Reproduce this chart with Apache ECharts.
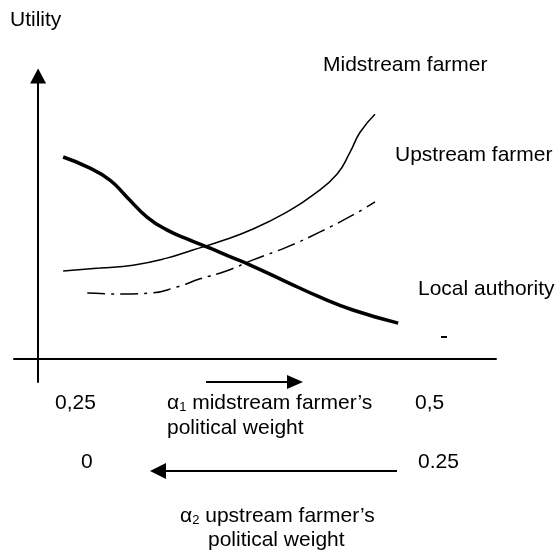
<!DOCTYPE html>
<html>
<head>
<meta charset="utf-8">
<script src="https://cdn.jsdelivr.net/npm/echarts@6/dist/echarts.min.js"></script>
<style>
  html, body { margin: 0; padding: 0; background: #fff; }
  #main { width: 558px; height: 553px; }
</style>
</head>
<body>
<div id="main"></div>
<script>
// schematic units: x = position along alpha1 axis, y = utility
var localAuthorityX = [5.2, 10.2, 14.9, 18.4, 22.6, 26.7, 31.5, 35.7, 39.8, 43.9, 51.6, 58.5, 65.3, 74.7];
var localAuthorityY = [69.2, 65.8, 61.3, 55.5, 48.6, 44.2, 40.7, 37.9, 35.0, 32.2, 26.3, 21.1, 16.7, 12.2];

var midstreamX = [5.2, 12.8, 19.7, 26.7, 32.1, 37.7, 44.6, 51.6, 57.0, 62.0, 64.7, 66.8, 69.9];
var midstreamY = [30.1, 31.1, 32.1, 34.5, 37.3, 40.2, 44.5, 50.3, 56.1, 63.3, 70.8, 77.7, 83.9];

var upstreamX = [10.2, 17.6, 23.2, 28.8, 33.6, 39.2, 44.6, 51.6, 58.5, 65.3, 69.9];
var upstreamY = [22.5, 22.2, 22.5, 24.6, 27.4, 30.2, 33.9, 38.3, 43.5, 49.3, 53.8];

var alpha1Ticks = ['0,25', '0,5'];
var alpha2Ticks = ['0', '0.25'];

function pairs(xs, ys) {
  return xs.map(function (x, i) { return [x, ys[i]]; });
}

var font = '"Liberation Sans", Arial, sans-serif';
var fs = 21;

function label(x, y, text) {
  return {
    type: 'text', left: x, top: y - 12,
    style: { text: text, font: fs + 'px ' + font, fill: '#000' }
  };
}

function richLabel(x, y, sub, rest) {
  return {
    type: 'text', left: x, top: y - 13,
    style: {
      text: '{a|α}{s|' + sub + '}{t|' + rest + '}',
      fill: '#000',
      rich: {
        a: { fontSize: fs, fontFamily: font, lineHeight: 25, verticalAlign: 'bottom' },
        s: { fontSize: 13, fontFamily: font, lineHeight: 25, verticalAlign: 'bottom' },
        t: { fontSize: fs, fontFamily: font, lineHeight: 25, verticalAlign: 'bottom' }
      }
    }
  };
}

var chart = echarts.init(document.getElementById('main'), null, { renderer: 'canvas' });

chart.setOption({
  backgroundColor: '#fff',
  animation: false,
  grid: { left: 14, right: 62, top: 76, bottom: 171, containLabel: false },
  xAxis: {
    type: 'value', min: -5, max: 95,
    axisLine: { onZero: true, lineStyle: { color: '#000', width: 2 } },
    axisTick: { show: false }, axisLabel: { show: false }, splitLine: { show: false }
  },
  yAxis: {
    type: 'value', min: -8, max: 97,
    axisLine: {
      onZero: true,
      symbol: ['none', 'triangle'], symbolSize: [16, 15],
      lineStyle: { color: '#000', width: 2 }
    },
    axisTick: { show: false }, axisLabel: { show: false }, splitLine: { show: false }
  },
  series: [
    {
      name: 'Local authority', type: 'line', smooth: 0.5, symbol: 'none',
      lineStyle: { color: '#000', width: 3.5 },
      data: pairs(localAuthorityX, localAuthorityY)
    },
    {
      name: 'Midstream farmer', type: 'line', smooth: 0.5, symbol: 'none',
      lineStyle: { color: '#000', width: 1.5 },
      data: pairs(midstreamX, midstreamY)
    },
    {
      name: 'Upstream farmer', type: 'line', smooth: 0.5, symbol: 'none',
      lineStyle: { color: '#000', width: 1.5, type: [18, 6, 3, 6] },
      data: pairs(upstreamX, upstreamY)
    }
  ],
  graphic: [
    label(10, 22, 'Utility'),
    label(323, 67, 'Midstream farmer'),
    label(395, 157, 'Upstream farmer'),
    label(418, 291, 'Local authority'),
    label(55, 405, alpha1Ticks[0]),
    richLabel(167, 406, '1', ' midstream farmer\u2019s'),
    label(167, 430, 'political weight'),
    label(415, 405, alpha1Ticks[1]),
    label(81, 464, alpha2Ticks[0]),
    label(418, 464, alpha2Ticks[1]),
    richLabel(180, 519, '2', ' upstream farmer\u2019s'),
    label(208, 542, 'political weight'),
    // direction arrows
    { type: 'line', shape: { x1: 206, y1: 382, x2: 289, y2: 382 }, style: { stroke: '#000', lineWidth: 2 } },
    { type: 'polygon', shape: { points: [[287, 375], [303, 382], [287, 389]] }, style: { fill: '#000' } },
    { type: 'line', shape: { x1: 397, y1: 471, x2: 164, y2: 471 }, style: { stroke: '#000', lineWidth: 2 } },
    { type: 'polygon', shape: { points: [[166, 463], [150, 471], [166, 479]] }, style: { fill: '#000' } },
    // small stray mark near the local authority label
    { type: 'line', shape: { x1: 441, y1: 337, x2: 447, y2: 337 }, style: { stroke: '#000', lineWidth: 2 } }
  ]
});
</script>
</body>
</html>
